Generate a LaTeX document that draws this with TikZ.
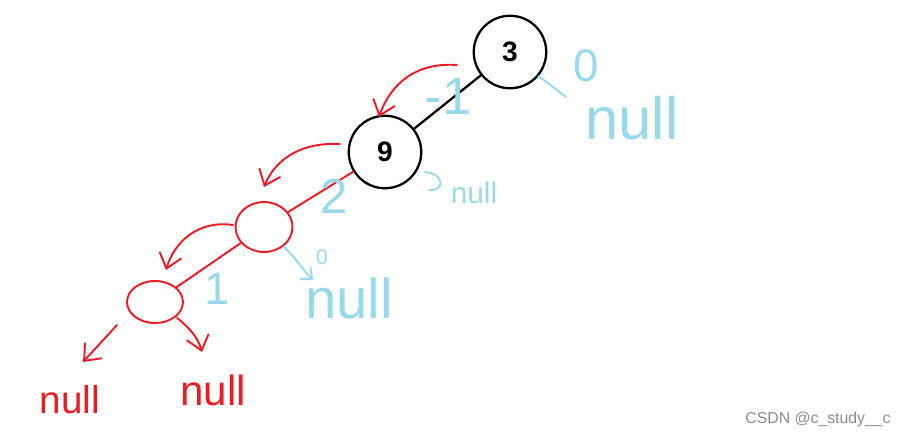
\documentclass[tikz,border=0pt]{standalone}
\usepackage{fontspec}
\setmainfont{Liberation Sans}
\usepackage{tikz}
\usetikzlibrary{arrows.meta, shapes.geometric}

\definecolor{paintred}{RGB}{237,28,36}
\definecolor{paintblue}{RGB}{153,217,234}
\newcommand{\fs}[1]{\fontsize{#1}{#1}\selectfont}

\begin{document}
\begin{tikzpicture}[x=0.02cm, y=-0.02cm,
  treenode/.style={circle, draw, line width=1.3pt, minimum size=1.45cm, inner sep=0pt, font=\fs{16}\bfseries},
  blob/.style={ellipse, draw=paintred, line width=1.1pt, inner sep=0pt},
  redpen/.style={paintred, line width=1.1pt, line cap=round, line join=round},
  bluepen/.style={paintblue, line width=1.1pt, line cap=round, line join=round},
  barb/.style={-{Straight Barb[length=8pt,width=13pt]}},
  redtext/.style={text=paintred, inner sep=0pt},
  bluetext/.style={text=paintblue, inner sep=0pt}]
  \useasboundingbox (0,0) rectangle (903,437);
  % tree
  \node[treenode] (n3) at (510,52) {3};
  \node[treenode] (n9) at (385,152) {9};
  \draw[line width=1.3pt] (n3) -- (n9);
  % red calls
  \node[blob, minimum width=1.14cm, minimum height=1.0cm] (b1) at (264,227) {};
  \node[blob, minimum width=1.12cm, minimum height=0.84cm] (b2) at (155,302) {};
  \draw[redpen] (n9) -- (b1);
  \draw[redpen] (b1) -- (b2);
  \coordinate (s1) at (457,65);  \coordinate (t1) at (379,117);
  \coordinate (s2) at (340,144); \coordinate (t2) at (264,187);
  \coordinate (s3) at (233,225); \coordinate (t3) at (166,270);
  \coordinate (s4) at (117,325); \coordinate (t4) at (83,362);
  \coordinate (s5) at (177,318); \coordinate (t5) at (202,352);
  \draw[redpen, barb] (s1) .. controls (415,62) and (390,85) .. (t1);
  \draw[redpen, barb] (s2) .. controls (300,142) and (275,160) .. (t2);
  \draw[redpen, barb] (s3) .. controls (200,220) and (175,240) .. (t3);
  \draw[redpen, barb] (s4) -- (t4);
  \draw[redpen, barb] (s5) .. controls (190,328) and (198,338) .. (t5);
  \node[redtext, font=\fs{22}] (nl1) at (70,400) {null};
  \node[redtext, font=\fs{24}] (nl2) at (213,390) {null};
  % blue returns
  \coordinate (k3) at (566,97);
  \draw[bluepen] (n3.-40) -- (k3);
  \coordinate (k9s) at (425,172); \coordinate (k9e) at (429,190);
  \draw[bluepen] (k9s) .. controls (446,174) and (444,192) .. (k9e);
  \coordinate (kb1) at (313,280);
  \draw[bluepen, -{Straight Barb[length=5pt,width=9pt]}] (b1.-45) .. controls (298,260) and (304,272) .. (kb1);
  \node[bluetext, font=\fs{30}] (r9) at (448,96) {-1};
  \node[bluetext, font=\fs{26}] (r3) at (586,66) {0};
  \node[bluetext, font=\fs{34}] (nu3) at (632,118) {null};
  \node[bluetext, font=\fs{17}] (nu9) at (474,193) {null};
  \node[bluetext, font=\fs{28}] (rb1) at (334,196) {2};
  \node[bluetext, font=\fs{12}] (z1) at (322,257) {0};
  \node[bluetext, font=\fs{32}] (nu1) at (349,298) {null};
  \node[bluetext, font=\fs{26}] (rb2) at (217,289) {1};
  % watermark
  \node[text=black!45, font=\fs{9}, inner sep=0pt] (mark) at (818,419) {CSDN @c\_study\_\_c};
\end{tikzpicture}
\end{document}
